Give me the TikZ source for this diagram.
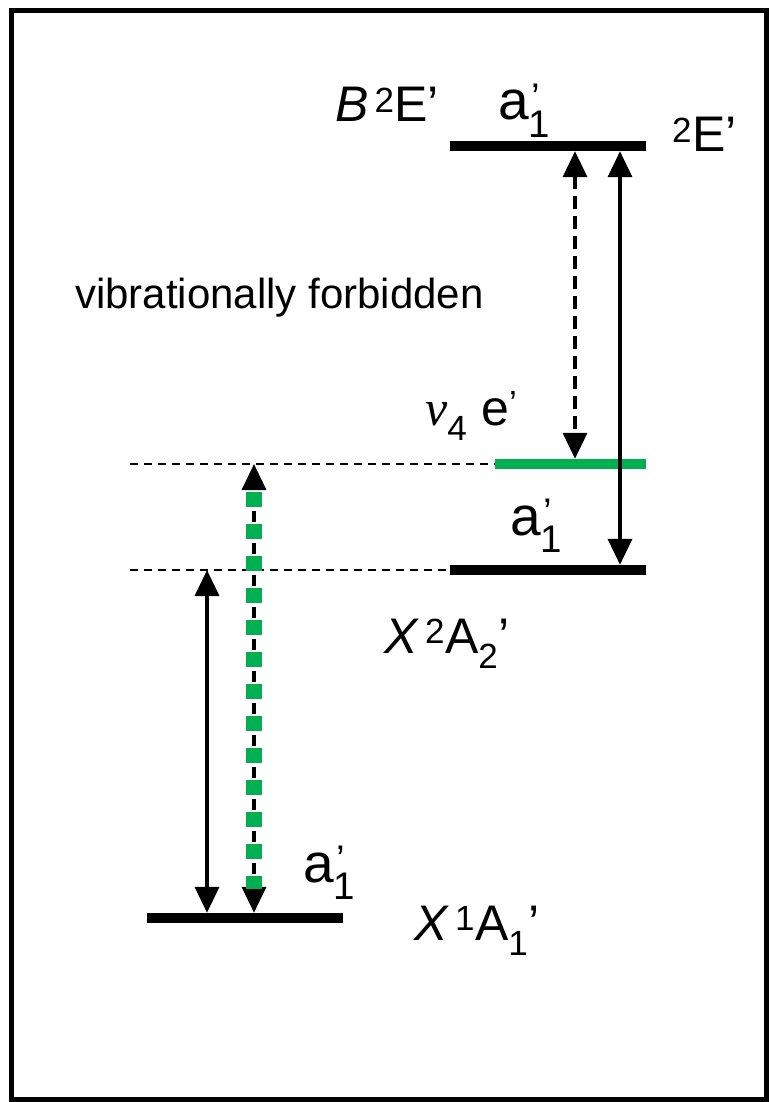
\documentclass[tikz,border=0pt]{standalone}
\usepackage{fontspec}
\setmainfont{Liberation Sans}
\newfontfamily\greekfont{Liberation Serif}
\usetikzlibrary{arrows.meta,positioning,calc}
\definecolor{lgreen}{RGB}{0,176,80}
\newcommand{\vib}[1]{a\rlap{\textsubscript{#1}}\hspace{3pt}\textsuperscript{’}}
\tikzset{
  level/.style={rectangle,fill=black,inner sep=0pt,minimum height=10pt,minimum width=196pt},
  vlevel/.style={level,fill=lgreen,minimum width=151pt},
  guide/.style={line width=2pt,dash pattern=on 8pt off 6pt},
  trans/.style={line width=3.5pt,{Triangle[length=26pt,width=24pt]}-{Triangle[length=26pt,width=24pt]}},
  transd/.style={trans,dash pattern=on 13pt off 7pt},
  greenbar/.style={lgreen,line width=16pt,dash pattern=on 15pt off 17pt},
  lab/.style={font=\fontsize{50}{58}\selectfont,inner sep=0pt,anchor=base west},
  viblab/.style={lab,font=\fontsize{55}{62}\selectfont},
  note/.style={font=\fontsize{42}{48}\selectfont,inner sep=0pt,anchor=base west},
}
\begin{document}
\begin{tikzpicture}[x=1pt,y=-1pt]
  \useasboundingbox (0,0) rectangle (769,1102);
  \draw[line width=5pt] (11,11) rectangle (766,1099);
  % energy levels
  \node[level]  (B)  at (548,146) {};
  \node[vlevel] (V)  at (570.5,464) {};
  \node[level]  (X2) at (548,570) {};
  \node[level]  (X1) at (245,918) {};
  % guide lines
  \coordinate (g1) at (130,464);
  \coordinate (g2) at (130,570);
  \draw[guide] (g1) -- (V.west);
  \draw[guide] (g2) -- (X2.west);
  % columns of the transitions
  \coordinate (c1) at (575,0);
  \coordinate (c2) at (620,0);
  \coordinate (c3) at (207,0);
  \coordinate (c4) at (254,0);
  \draw[transd] (B.south -| c1) -- (V.north -| c1);
  \draw[trans]  (B.south -| c2) -- (X2.north -| c2);
  \draw[trans]  (g2 -| c3) -- (X1.north -| c3);
  \draw[trans,dash pattern=on 11pt off 21pt,dash phase=10pt] (g1 -| c4) -- (X1.north -| c4);
  \draw[greenbar,shorten <=28pt,shorten >=24pt] (g1 -| c4) -- (X1.north -| c4);
  % labels
  \node[lab] (Blab)  at (335,122) {\textit{B}\hspace{6pt}\textsuperscript{2}E’};
  \node[viblab] (Bvib)  at (498,120) {\vib{1}};
  \node[lab] (Bsym)  at (672,152) {\textsuperscript{2}E’};
  \node[lab] (nulab) at (425,425) {{\greekfont\itshape ν}\textsubscript{4} e\textsuperscript{’}};
  \node[viblab] (X2vib) at (510,535) {\vib{1}};
  \node[lab] (X2lab) at (384,653) {\textit{X}\hspace{6pt}\textsuperscript{2}A\textsubscript{2}’};
  \node[viblab] (X1vib) at (303,882) {\vib{1}};
  \node[lab] (X1lab) at (414,940) {\textit{X}\hspace{6pt}\textsuperscript{1}A\textsubscript{1}’};
  \node[note] (forb) at (75,308) {vibrationally forbidden};
\end{tikzpicture}
\end{document}
